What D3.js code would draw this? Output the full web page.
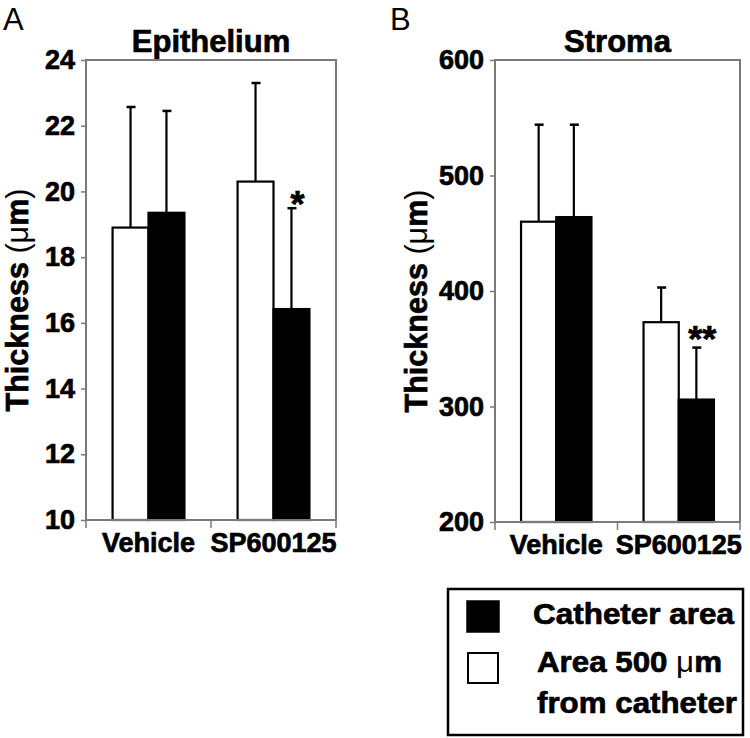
<!DOCTYPE html>
<html>
<head>
<meta charset="utf-8">
<script src="https://cdn.jsdelivr.net/npm/d3@7"></script>
<style>
  body { margin: 0; background: #fff; }
  text { font-family: "Liberation Sans", Arial, sans-serif; }
  .heavy { stroke: #000; stroke-width: 0.7px; }
</style>
</head>
<body>
<svg id="chart" width="750" height="738"></svg>
<script>
const categories = ["Vehicle", "SP600125"];

// Epithelium (µm)
const epiWhite = [18.9, 20.3];
const epiWhiteErr = [3.67, 3.0];
const epiBlack = [19.35, 16.42];
const epiBlackErr = [3.1, 3.07];
const epiTicks = [10, 12, 14, 16, 18, 20, 22, 24];
const epiStars = ["", "*"];

// Stroma (µm)
const stromaWhite = [460, 373];
const stromaWhiteErr = [84, 30];
const stromaBlack = [464, 306];
const stromaBlackErr = [80, 45];
const stromaTicks = [200, 300, 400, 500, 600];
const stromaStars = ["", "**"];

const svg = d3.select("#chart");
svg.append("rect").attr("width", 750).attr("height", 738).attr("fill", "#fff");

const frameColor = "#7a7a7a";

function drawPanel(opts) {
  const { left, right, top, bottom } = opts;

  const y = d3.scaleLinear().domain(opts.domain).range([bottom, top]);
  const x0 = d3.scaleBand().domain(categories).range([left, right]);
  const x1 = d3
    .scaleBand()
    .domain([0, 1])
    .range([0, x0.bandwidth()])
    .paddingInner(0)
    .paddingOuter(0.74);

  // panel letter
  svg
    .append("text")
    .attr("x", opts.letterX)
    .attr("y", 30)
    .attr("font-size", "31px")
    .text(opts.letter);

  // title
  svg
    .append("text")
    .attr("class", "heavy")
    .attr("x", (left + right) / 2)
    .attr("y", 52)
    .attr("text-anchor", "middle")
    .attr("font-size", "31px")
    .attr("font-weight", "bold")
    .text(opts.title);

  const series = [
    { values: opts.white, errs: opts.whiteErr, fill: "#fff" },
    { values: opts.black, errs: opts.blackErr, fill: "#000" },
  ];

  series.forEach((s, i) => {
    categories.forEach((cat, j) => {
      const bx = x0(cat) + x1(i);
      const bw = x1.bandwidth();
      const cx = bx + bw / 2;
      const v = s.values[j];
      const topVal = v + s.errs[j];

      // error bar
      svg
        .append("line")
        .attr("x1", cx)
        .attr("x2", cx)
        .attr("y1", y(v))
        .attr("y2", y(topVal))
        .attr("stroke", "#000")
        .attr("stroke-width", 2.2);
      svg
        .append("line")
        .attr("x1", cx - 4)
        .attr("x2", cx + 5)
        .attr("y1", y(topVal))
        .attr("y2", y(topVal))
        .attr("stroke", "#000")
        .attr("stroke-width", 2.5);

      svg
        .append("rect")
        .attr("x", bx)
        .attr("y", y(v))
        .attr("width", bw)
        .attr("height", y(opts.domain[0]) - y(v))
        .attr("fill", s.fill)
        .attr("stroke", "#000")
        .attr("stroke-width", 2.2);

      if (i === 1 && opts.stars[j]) {
        svg
          .append("text")
          .attr("class", "heavy")
          .attr("x", cx + 6)
          .attr("y", y(topVal) + opts.starDy)
          .attr("text-anchor", "middle")
          .attr("font-size", "36px")
          .attr("font-weight", "bold")
          .text(opts.stars[j]);
      }
    });
  });

  // frame
  svg
    .append("rect")
    .attr("x", left)
    .attr("y", top)
    .attr("width", right - left)
    .attr("height", bottom - top)
    .attr("fill", "none")
    .attr("stroke", frameColor)
    .attr("stroke-width", 2);

  // y axis
  const yAxis = svg
    .append("g")
    .attr("transform", `translate(${left},0)`)
    .call(d3.axisLeft(y).tickValues(opts.ticks).tickSize(5).tickPadding(6));
  yAxis.select(".domain").remove();
  yAxis.selectAll(".tick line").attr("stroke", frameColor).attr("stroke-width", 1.5);
  yAxis
    .selectAll(".tick text")
    .attr("class", "heavy")
    .attr("fill", "#000")
    .attr("font-family", '"Liberation Sans", Arial, sans-serif')
    .attr("font-size", "27px")
    .attr("font-weight", "bold");

  // x axis: labels at band centres, ticks at band edges
  const xAxis = svg
    .append("g")
    .attr("transform", `translate(0,${bottom})`)
    .call(d3.axisBottom(x0).tickSize(0).tickPadding(13));
  xAxis.select(".domain").remove();
  xAxis
    .selectAll(".tick text")
    .attr("class", "heavy")
    .attr("fill", "#000")
    .attr("font-family", '"Liberation Sans", Arial, sans-serif')
    .attr("font-size", "27px")
    .attr("font-weight", "bold");

  const edges = [left, x0(categories[1]), right];
  svg
    .selectAll(null)
    .data(edges)
    .join("line")
    .attr("x1", (d) => d)
    .attr("x2", (d) => d)
    .attr("y1", bottom)
    .attr("y2", bottom + 8)
    .attr("stroke", frameColor)
    .attr("stroke-width", 1.5);

  // y label
  const yl = svg
    .append("text")
    .attr("transform", `translate(${opts.ylabelX},${(top + bottom) / 2 + 10}) rotate(-90)`)
    .attr("text-anchor", "middle")
    .attr("font-size", "31px")
    .attr("font-weight", "bold")
    .attr("textLength", 223)
    .attr("lengthAdjust", "spacingAndGlyphs");
  yl.append("tspan").attr("class", "heavy").text("Thickness ");
  yl.append("tspan").attr("font-weight", "normal").text("(μ");
  yl.append("tspan").attr("class", "heavy").text("m");
  yl.append("tspan").attr("font-weight", "normal").text(")");
}

drawPanel({
  letter: "A",
  letterX: 3,
  title: "Epithelium",
  left: 86,
  right: 336,
  top: 60,
  bottom: 520,
  domain: [10, 24],
  ticks: epiTicks,
  white: epiWhite,
  whiteErr: epiWhiteErr,
  black: epiBlack,
  blackErr: epiBlackErr,
  stars: epiStars,
  starDy: 9,
  ylabelX: 28,
});

drawPanel({
  letter: "B",
  letterX: 390,
  title: "Stroma",
  left: 495,
  right: 740,
  top: 60,
  bottom: 522,
  domain: [200, 600],
  ticks: stromaTicks,
  white: stromaWhite,
  whiteErr: stromaWhiteErr,
  black: stromaBlack,
  blackErr: stromaBlackErr,
  stars: stromaStars,
  starDy: 4,
  ylabelX: 427,
});

// legend
const legend = svg.append("g");
legend
  .append("rect")
  .attr("x", 448)
  .attr("y", 589)
  .attr("width", 295)
  .attr("height", 146)
  .attr("fill", "#fff")
  .attr("stroke", "#000")
  .attr("stroke-width", 2.5);
legend
  .append("rect")
  .attr("x", 467)
  .attr("y", 601)
  .attr("width", 32)
  .attr("height", 31)
  .attr("fill", "#000")
  .attr("stroke", "#000")
  .attr("stroke-width", 1.5);
legend
  .append("rect")
  .attr("x", 468)
  .attr("y", 653)
  .attr("width", 30)
  .attr("height", 30)
  .attr("fill", "#fff")
  .attr("stroke", "#000")
  .attr("stroke-width", 2);

legend
  .append("text")
  .attr("class", "heavy")
  .attr("x", 533)
  .attr("y", 624)
  .attr("font-size", "30px")
  .attr("font-weight", "bold")
  .attr("textLength", 201)
  .attr("lengthAdjust", "spacingAndGlyphs")
  .text("Catheter area");

const l2 = legend
  .append("text")
  .attr("x", 537)
  .attr("y", 672)
  .attr("font-size", "30px")
  .attr("font-weight", "bold")
  .attr("textLength", 185)
  .attr("lengthAdjust", "spacingAndGlyphs");
l2.append("tspan").attr("class", "heavy").text("Area 500 ");
l2.append("tspan").attr("font-weight", "normal").text("μ");
l2.append("tspan").attr("class", "heavy").text("m");

legend
  .append("text")
  .attr("class", "heavy")
  .attr("x", 537)
  .attr("y", 713)
  .attr("font-size", "30px")
  .attr("font-weight", "bold")
  .attr("textLength", 200)
  .attr("lengthAdjust", "spacingAndGlyphs")
  .text("from catheter");
</script>
</body>
</html>
